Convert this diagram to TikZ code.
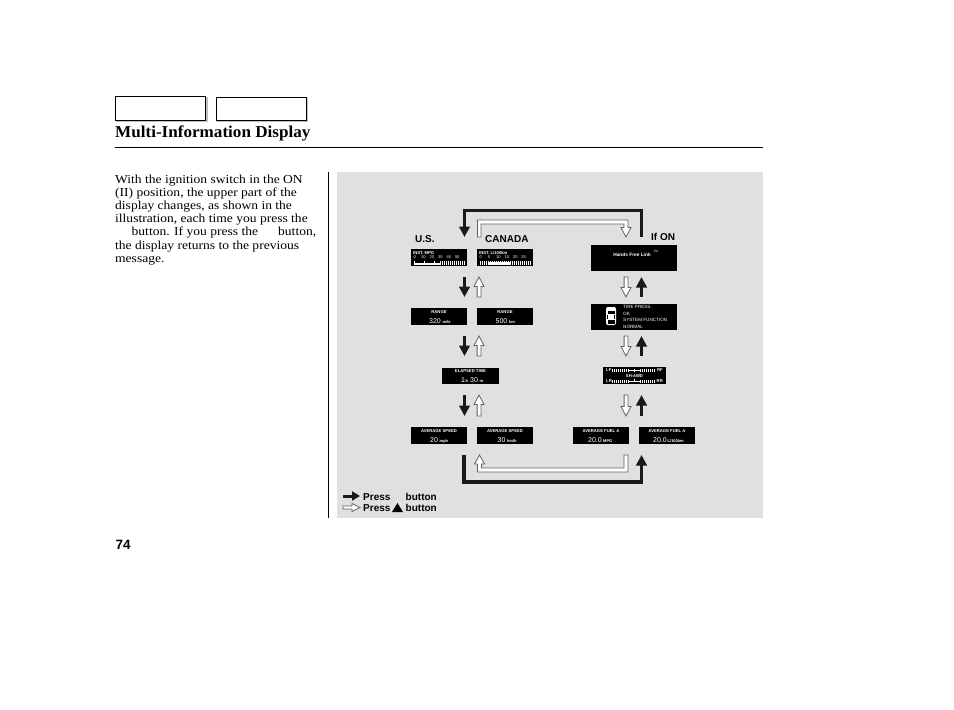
\documentclass[tikz,border=0pt]{standalone}
\usepackage{fontspec}
\setmainfont[FakeStretch=1.11]{Liberation Serif}
\setsansfont{Liberation Sans}
\newfontfamily\titlefont[FakeStretch=1.03]{Liberation Serif}
\usetikzlibrary{arrows.meta,calc}
\newcommand\fsz[1]{\fontsize{#1}{#1}\selectfont}
% hollow block arrow between two named coordinates; #3 = 1 points up, -1 points down
\newcommand\hollowarrow[3]{\draw[hollow] ($(#1)+(-1.9,0)$) -- ($(#2)+(-1.9,#3*9.5)$) -- ($(#2)+(-5,#3*9.5)$) -- (#2) -- ($(#2)+(5,#3*9.5)$) -- ($(#2)+(1.9,#3*9.5)$) -- ($(#1)+(1.9,0)$) -- cycle;}
\tikzset{
  bodytext/.style={anchor=base west,inner sep=0,font=\fsz{12.2}},
  sanslabel/.style={anchor=base west,inner sep=0,font=\sffamily\bfseries\fsz{10}},
  panel/.style={fill=black,inner sep=0,minimum width=56pt,minimum height=17pt},
  ptext/.style={text=white,inner sep=0,font=\sffamily\bfseries\fsz{4.2}},
  pnum/.style={text=white,inner sep=0,anchor=base west,font=\sffamily\fsz{7}},
  punit/.style={text=white,inner sep=0,anchor=base west,font=\sffamily\bfseries\fsz{4}},
  solidarrow/.style={line width=3.4pt,line join=miter,draw=black!90,-{Triangle[length=10.5pt,width=10.5pt]}},
  hollow/.style={draw=black!62,line width=0.8pt,fill=white,line join=miter},
  tabbox/.style={draw=black,line width=1.4pt,fill=white,inner sep=0},
}
\begin{document}
\begin{tikzpicture}[x=1pt,y=-1pt]
\useasboundingbox (0,0) rectangle (954,710);
\fill[white] (0,0) rectangle (954,710);
% header
\fill[black!25] (116,97) rectangle (208,122);
\fill[black!25] (217,98) rectangle (308,122);
\node[tabbox,minimum width=90.5pt,minimum height=23.5pt] (tabA) at (160.5,108.5) {};
\node[tabbox,minimum width=89.5pt,minimum height=23pt] (tabB) at (261.5,109) {};
\node[anchor=base west,inner sep=0,font=\titlefont\bfseries\fsz{16.6}] (title) at (115,137) {Multi-Information Display};
\draw[line width=0.9pt] (115,147) -- (763,147);
\draw[line width=0.9pt] (328.5,172) -- (328.5,518);
% left text
\node[bodytext] (l1) at (115,183) {With the ignition switch in the ON};
\node[bodytext] (l2) at (115,196.2) {(II) position, the upper part of the};
\node[bodytext] (l3) at (115,209.5) {display changes, as shown in the};
\node[bodytext] (l4) at (115,222.7) {illustration, each time you press the};
\node[bodytext] (l5a) at (131.5,235.9) {button. If you press the};
\node[bodytext] (l5b) at (278,235.9) {button,};
\node[bodytext] (l6) at (115,249.2) {the display returns to the previous};
\node[bodytext] (l7) at (115,262.4) {message.};
\node[anchor=base west,inner sep=0,font=\sffamily\bfseries\fsz{13.5}] (pageno) at (115.3,549) {74};
% grey field
\fill[black!12] (337,172) rectangle (763,518);
% labels
\node[sanslabel] (lus) at (415,242.5) {U.S.};
\node[sanslabel] (lca) at (485,242.5) {CANADA};
\node[sanslabel] (lon) at (651,240.5) {If ON};
% panels
\node[panel] (us) at (439,257.7) {};
\node[panel] (ca) at (505,257.7) {};
\node[panel,minimum width=86pt,minimum height=26pt] (hfl) at (634,258) {};
\node[panel,minimum width=86pt,minimum height=26pt] (tire) at (634,317) {};
\node[panel] (rus) at (439,316.5) {};
\node[panel] (rca) at (505,316.5) {};
\node[panel,minimum width=57pt,minimum height=16.5pt] (el) at (470.5,376) {};
\node[panel,minimum width=63pt,minimum height=17pt] (tp) at (634.5,375.5) {};
\node[panel] (sus) at (439,435.5) {};
\node[panel] (sca) at (505,435.5) {};
\node[panel] (fus) at (601,435.5) {};
\node[panel] (fca) at (667,435.5) {};
% panel contents: instant economy
\node[ptext,anchor=west] (ust) at (413,252.8) {INST. MPG};
\node[ptext,anchor=west,font=\sffamily\fsz{4}] (usn) at (413.5,257.5) {0\hspace{5.3pt}10\hspace{4pt}20\hspace{4pt}30\hspace{4pt}40\hspace{4pt}50};
\fill[white] (414,263.4) rectangle (440,265);
\foreach \k in {440,442,...,464} \fill[white] (\k,261) rectangle (\k+0.9,265);
\foreach \k in {414,424,434} \fill[white] (\k,261) rectangle (\k+0.9,265);
\node[ptext,anchor=west] (cat) at (479,252.8) {INST. L/100km};
\node[ptext,anchor=west,font=\sffamily\fsz{4}] (can) at (479.5,257.5) {0\hspace{6pt}5\hspace{6pt}10\hspace{4pt}15\hspace{4pt}20\hspace{4pt}25};
\fill[white] (488,262.2) rectangle (510,265);
\foreach \k in {480,482,...,530} \fill[white] (\k,261) rectangle (\k+0.9,265);
% hands free
\node[ptext,font=\sffamily\bfseries\fsz{4.8}] (hfltext) at (632,254.7) {Hands Free Link};
\node[ptext,font=\sffamily\fsz{3}] (hfltm) at (656,251.3) {TM};
% tire status
\node[ptext,anchor=west,font=\sffamily\fsz{4.6}] (t1) at (623,307) {TIRE PRESS.};
\node[ptext,anchor=west,font=\sffamily\fsz{4.6}] (t2) at (623,313.7) {OK};
\node[ptext,anchor=west,font=\sffamily\fsz{4.6}] (t3) at (623,320.2) {SYSTEM FUNCTION};
\node[ptext,anchor=west,font=\sffamily\fsz{4.6}] (t4) at (623,327) {NORMAL};
\fill[white,rounded corners=2pt] (606,307) rectangle (616,325);
\fill[black] (607.5,311) rectangle (614.5,313.5);
\fill[black] (607.5,320) rectangle (614.5,324);
\fill[black] (607,314.5) rectangle (608,319);
\fill[black] (614,314.5) rectangle (615,319);
% range
\node[ptext] (rt1) at (439,311.8) {RANGE};
\node[pnum] (rn1) at (429,323) {320};
\node[punit] (ru1) at (442.5,323) {mile};
\node[ptext] (rt2) at (505,311.8) {RANGE};
\node[pnum] (rn2) at (495.5,323) {500};
\node[punit] (ru2) at (509,323) {km};
% elapsed
\node[ptext] (et) at (470.5,371.3) {ELAPSED TIME};
\node[pnum] (en1) at (461,382.3) {1};
\node[punit] (eu1) at (465.5,382.3) {h};
\node[pnum] (en2) at (470,382.3) {30};
\node[punit] (eu2) at (479.5,382.3) {m};
% average speed
\node[ptext] (st1) at (439,431) {AVERAGE SPEED};
\node[pnum] (sn1) at (430,442) {20};
\node[punit] (su1) at (439.5,442) {mph};
\node[ptext] (st2) at (505,431) {AVERAGE SPEED};
\node[pnum] (sn2) at (497.5,442) {30};
\node[punit] (su2) at (507,442) {km/h};
% average fuel
\node[ptext] (ft1) at (601,431) {AVERAGE FUEL A};
\node[pnum] (fn1) at (588,442) {20.0};
\node[punit] (fu1) at (603,442) {MPG};
\node[ptext] (ft2) at (667,431) {AVERAGE FUEL A};
\node[pnum] (fn2) at (653,442) {20.0};
\node[punit] (fu2) at (667.5,442) {L/100km};
% tire position
\node[ptext,anchor=west] (tlf) at (606,369.9) {LF};
\node[ptext,anchor=east] (trf) at (663,369.9) {RF};
\node[ptext] (tsh) at (634.5,375.8) {SH-AWD};
\node[ptext,anchor=west] (tlr) at (606,381) {LR};
\node[ptext,anchor=east] (trr) at (663,381) {RR};
\foreach \k in {612,614,...,628,640,642,...,654} {
  \fill[white] (\k,368.5) rectangle (\k+1.4,371.5);
  \fill[white] (\k,379.5) rectangle (\k+1.4,382.5);
}
\draw[white,line width=0.9pt] (628,370) -- (640,370) (634,368.5) -- (634,371.5);
\draw[white,line width=0.9pt] (628,381) -- (640,381) (634,378.5) -- (634,382);
% route coordinates
\coordinate (ltop) at (464.5,237);
\coordinate (ltopc) at (464.5,210.7);
\coordinate (rtopc) at (641.7,210.7);
\coordinate (rtop) at (641.7,237);
\coordinate (lbot) at (464,455);
\coordinate (lbotc) at (464,482);
\coordinate (rbotc) at (641.5,482);
\coordinate (rbot) at (641.5,455);
% upper route
\draw[solidarrow] (rtop) -- (rtopc) -- (ltopc) -- (ltop);
\draw[hollow] (477.5,237) -- (477.5,220) -- (628,220) -- (628,227.5) -- (631,227.5) -- (626,237) -- (621,227.5) -- (624,227.5) -- (624,224) -- (481,224) -- (481,237) -- cycle;
% lower route
\draw[solidarrow] (lbot) -- (lbotc) -- (rbotc) -- (rbot);
\draw[hollow] (624,455) -- (628,455) -- (628,472) -- (477.5,472) -- (477.5,464) -- (474.5,464) -- (479.5,455) -- (484.5,464) -- (481.5,464) -- (481.5,468) -- (624,468) -- cycle;
% columns
\foreach \i/\t/\b in {1/277/297,2/336/356,3/395/416} {
  \coordinate (ka\i) at (464.5,\t);
  \coordinate (kb\i) at (464.5,\b);
  \draw[solidarrow] (ka\i) -- (kb\i);
  \coordinate (wa\i) at (479,\b);
  \coordinate (wb\i) at (479,\t);
  \hollowarrow{wa\i}{wb\i}{1}
  \coordinate (ra\i) at (626,\t);
  \coordinate (rb\i) at (626,\b);
  \hollowarrow{ra\i}{rb\i}{-1}
  \coordinate (sa\i) at (641.5,\b);
  \coordinate (sb\i) at (641.5,\t);
  \draw[solidarrow] (sa\i) -- (sb\i);
}
% legend
\coordinate (lga) at (343,496);
\coordinate (lgb) at (360,496);
\draw[solidarrow,line width=3pt,-{Triangle[length=8pt,width=9pt]}] (lga) -- (lgb);
\draw[hollow] (343,506) -- (352,506) -- (352,503.5) -- (360,507.5) -- (352,511.5) -- (352,509) -- (343,509) -- cycle;
\node[sanslabel] (p1) at (363,500) {Press};
\node[sanslabel] (b1) at (405.5,500) {button};
\node[sanslabel] (p2) at (363,511.3) {Press};
\node[sanslabel] (b2) at (405.5,511.3) {button};
\fill[black] (392,512) -- (403,512) -- (397.5,503) -- cycle;
\end{tikzpicture}
\end{document}
